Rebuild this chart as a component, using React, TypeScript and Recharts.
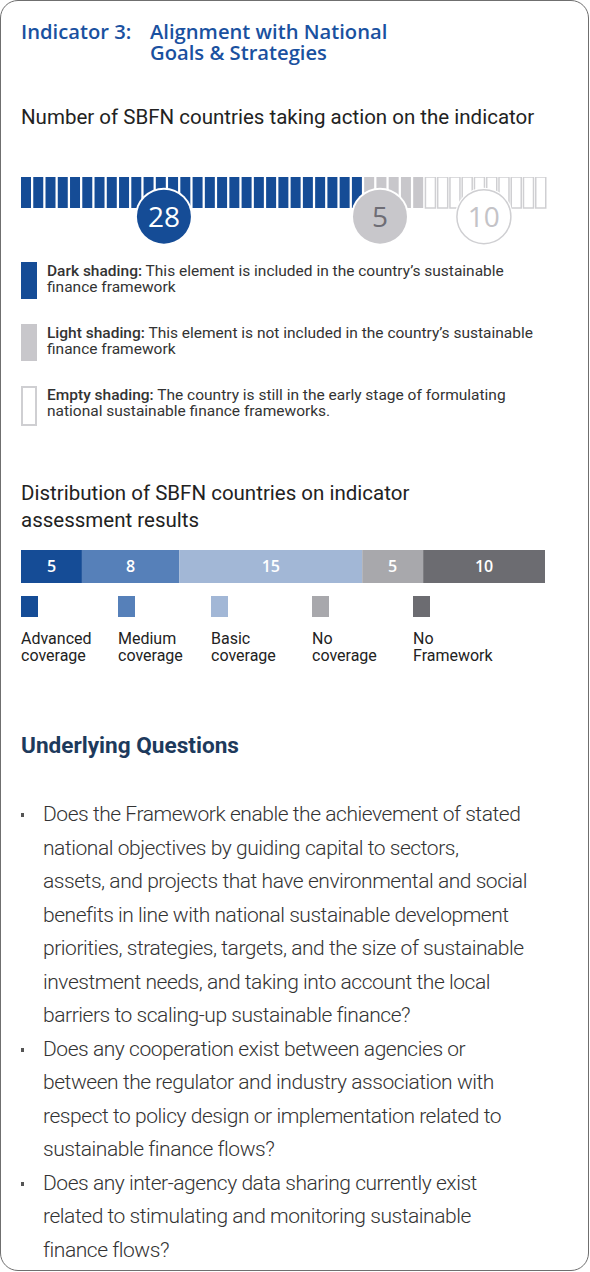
import React from "react";
import { Bar, BarChart, Cell, LabelList, ReferenceDot, XAxis, YAxis } from "recharts";

// waffle strip: how many countries fall in each shading
const WAFFLE_KINDS = ["dark", "light", "empty"];
const WAFFLE_COUNTS = [28, 5, 10];
// where the count bubbles sit along the strip (position on hidden axis)
const BUBBLE_AT = [11.47, 28.69, 36.97];

// distribution bar
const DIST_KEYS = ["advanced", "medium", "basic", "none", "noFramework"];
const DIST_VALUES = [5, 8, 15, 5, 10];
const DIST_LABELS = [
  ["Advanced", "coverage"],
  ["Medium", "coverage"],
  ["Basic", "coverage"],
  ["No", "coverage"],
  ["No", "Framework"],
];

const BLUE = "#154c96";
const LIGHT = "#c8c7cb";
const EMPTY_STROKE = "#cfcfd2";
const DIST_COLORS = [BLUE, "#5680b9", "#a2b7d6", "#a8a8ac", "#6c6c71"];
const LEGEND_X = [21, 118, 211, 312, 413];

const QUESTIONS = [
  [
    "Does the Framework enable the achievement of stated",
    "national objectives by guiding capital to sectors,",
    "assets, and projects that have environmental and social",
    "benefits in line with national sustainable development",
    "priorities, strategies, targets, and the size of sustainable",
    "investment needs, and taking into account the local",
    "barriers to scaling-up sustainable finance?",
  ],
  [
    "Does any cooperation exist between agencies or",
    "between the regulator and industry association with",
    "respect to policy design or implementation related to",
    "sustainable finance flows?",
  ],
  [
    "Does any inter-agency data sharing currently exist",
    "related to stimulating and monitoring sustainable",
    "finance flows?",
  ],
];

const KEY_ITEMS = [
  { kind: "dark", head: "Dark shading:", lines: ["This element is included in the country’s sustainable", "finance framework"] },
  { kind: "light", head: "Light shading:", lines: ["This element is not included in the country’s sustainable", "finance framework"] },
  { kind: "empty", head: "Empty shading:", lines: ["The country is still in the early stage of formulating", "national sustainable finance frameworks."] },
];

const ROBOTO = "Roboto, 'Noto Sans', sans-serif";
const TITLE_FONT = "'Open Sans', 'Noto Sans', sans-serif";

function abs(left: number, top: number, extra: React.CSSProperties = {}): React.CSSProperties {
  return { position: "absolute", left, top, whiteSpace: "nowrap", ...extra };
}

function Bubble(props: any) {
  const { cx, cy, kind, count } = props;
  const fill = kind === "dark" ? BLUE : kind === "light" ? LIGHT : "#ffffff";
  const text = kind === "dark" ? "#ffffff" : kind === "light" ? "#6e6d75" : "#c4c3c7";
  return (
    <g>
      <circle cx={cx} cy={cy} r={29} fill="#ffffff" />
      <circle
        cx={cx}
        cy={cy}
        r={27}
        fill={fill}
        stroke={kind === "empty" ? EMPTY_STROKE : fill}
        strokeWidth={kind === "empty" ? 1.5 : 0}
      />
      <text
        x={cx}
        y={cy + 10}
        textAnchor="middle"
        fontFamily={TITLE_FONT}
        fontSize={28}
        fill={text}
      >
        {count}
      </text>
    </g>
  );
}

const titleStyle: React.CSSProperties = {
  fontFamily: TITLE_FONT,
  fontWeight: 600,
  fontSize: 20.2,
  lineHeight: "21px",
  color: "#1a51a0",
};

export default function App() {
  const cells: { i: number; v: number; kind: string }[] = [];
  WAFFLE_KINDS.forEach((kind, k) => {
    for (let n = 0; n < WAFFLE_COUNTS[k]; n++) cells.push({ i: cells.length, v: 1, kind });
  });
  const total = cells.length;

  const distRow: Record<string, number | string> = { name: "all" };
  DIST_KEYS.forEach((k, i) => (distRow[k] = DIST_VALUES[i]));
  const distTotal = DIST_VALUES.reduce((a, b) => a + b, 0);

  return (
    <div
      style={{
        position: "absolute",
        left: 0,
        top: 0,
        width: 590,
        height: 1272,
        background: "#fff",
        overflow: "hidden",
        fontFamily: ROBOTO,
      }}
    >
      <div
        style={{
          position: "absolute",
          left: 0,
          top: 0,
          width: 589,
          height: 1271,
          boxSizing: "border-box",
          border: "1px solid #6f6f6f",
          borderRadius: 18,
        }}
      />

      {/* title */}
      <div style={abs(21, 21, titleStyle)}>Indicator 3:</div>
      <div style={abs(150, 21, titleStyle)}>Alignment with National</div>
      <div style={abs(150, 42, titleStyle)}>Goals &amp; Strategies</div>

      <div style={abs(21, 105, { fontSize: 20.5, lineHeight: "24px", color: "#222" })}>
        Number of SBFN countries taking action on the indicator
      </div>

      {/* waffle strip */}
      <div style={abs(0, 170)}>
        <BarChart
          width={590}
          height={90}
          data={cells}
          margin={{ top: 7, right: 43, bottom: 5.5, left: 20 }}
          barCategoryGap={0}
        >
          <XAxis dataKey="i" type="category" hide />
          <XAxis xAxisId="pos" type="number" domain={[0, total]} allowDataOverflow hide />
          <YAxis type="number" domain={[-1.5, 1]} allowDataOverflow hide />
          <Bar dataKey="v" barSize={10} isAnimationActive={false}>
            {cells.map((c) => (
              <Cell
                key={c.i}
                fill={c.kind === "dark" ? BLUE : c.kind === "light" ? LIGHT : "#ffffff"}
                stroke={c.kind === "empty" ? EMPTY_STROKE : "none"}
                strokeWidth={c.kind === "empty" ? 1.5 : 0}
              />
            ))}
          </Bar>
          {WAFFLE_KINDS.map((kind, k) => (
            <ReferenceDot
              key={kind}
              xAxisId="pos"
              x={BUBBLE_AT[k]}
              y={-0.28}
              r={27}
              shape={(p: any) => <Bubble {...p} kind={kind} count={WAFFLE_COUNTS[k]} />}
            />
          ))}
        </BarChart>
      </div>

      {/* shading key */}
      {KEY_ITEMS.map((item, i) => {
        const top = 262 + i * 62;
        return (
          <React.Fragment key={item.kind}>
            <div
              style={abs(21, top, {
                width: 16,
                height: item.kind === "empty" ? 40 : 37,
                boxSizing: "border-box",
                background: item.kind === "dark" ? BLUE : item.kind === "light" ? LIGHT : "#fff",
                border: item.kind === "empty" ? `2px solid ${EMPTY_STROKE}` : "none",
              })}
            />
            <div style={abs(47, top + 1, { fontSize: 15.5, lineHeight: "16px", color: "#333" })}>
              <span style={{ fontWeight: 500 }}>{item.head}</span> {item.lines[0]}
              <br />
              {item.lines[1]}
            </div>
          </React.Fragment>
        );
      })}

      {/* distribution */}
      <div style={abs(21, 480, { fontSize: 20.5, lineHeight: "27px", color: "#222" })}>
        Distribution of SBFN countries on indicator
        <br />
        assessment results
      </div>

      <div style={abs(0, 550)}>
        <BarChart
          layout="vertical"
          width={590}
          height={33}
          data={[distRow]}
          margin={{ top: 0, right: 45, bottom: 0, left: 21 }}
          barCategoryGap={0}
        >
          <XAxis type="number" domain={[0, distTotal]} hide />
          <YAxis type="category" dataKey="name" hide />
          {DIST_KEYS.map((k, i) => (
            <Bar key={k} dataKey={k} stackId="d" fill={DIST_COLORS[i]} isAnimationActive={false}>
              <LabelList
                dataKey={k}
                position="center"
                fill="#ffffff"
                fontFamily={TITLE_FONT}
                fontWeight={600}
                fontSize={16}
              />
            </Bar>
          ))}
        </BarChart>
      </div>

      {DIST_LABELS.map((lab, i) => (
        <React.Fragment key={i}>
          <div style={abs(LEGEND_X[i], 596, { width: 17, height: 21, background: DIST_COLORS[i] })} />
          <div style={abs(LEGEND_X[i], 630, { fontSize: 16, lineHeight: "17px", color: "#222" })}>
            {lab[0]}
            <br />
            {lab[1]}
          </div>
        </React.Fragment>
      ))}

      {/* questions */}
      <div style={abs(21, 733, { fontSize: 22.6, fontWeight: 700, lineHeight: "26px", color: "#1d3a5c" })}>
        Underlying Questions
      </div>

      {(() => {
        let line = 0;
        return QUESTIONS.map((q, qi) => {
          const top = 798 + line * 33.5;
          line += q.length;
          return (
            <React.Fragment key={qi}>
              <div style={abs(21, top + 15, { width: 3, height: 4, background: "#555" })} />
              <div
                style={abs(43, top, {
                  fontSize: 21,
                  fontWeight: 300,
                  lineHeight: "33.5px",
                  letterSpacing: -0.45,
                  color: "#333",
                })}
              >
                {q.map((t, ti) => (
                  <div key={ti}>{t}</div>
                ))}
              </div>
            </React.Fragment>
          );
        });
      })()}
    </div>
  );
}
